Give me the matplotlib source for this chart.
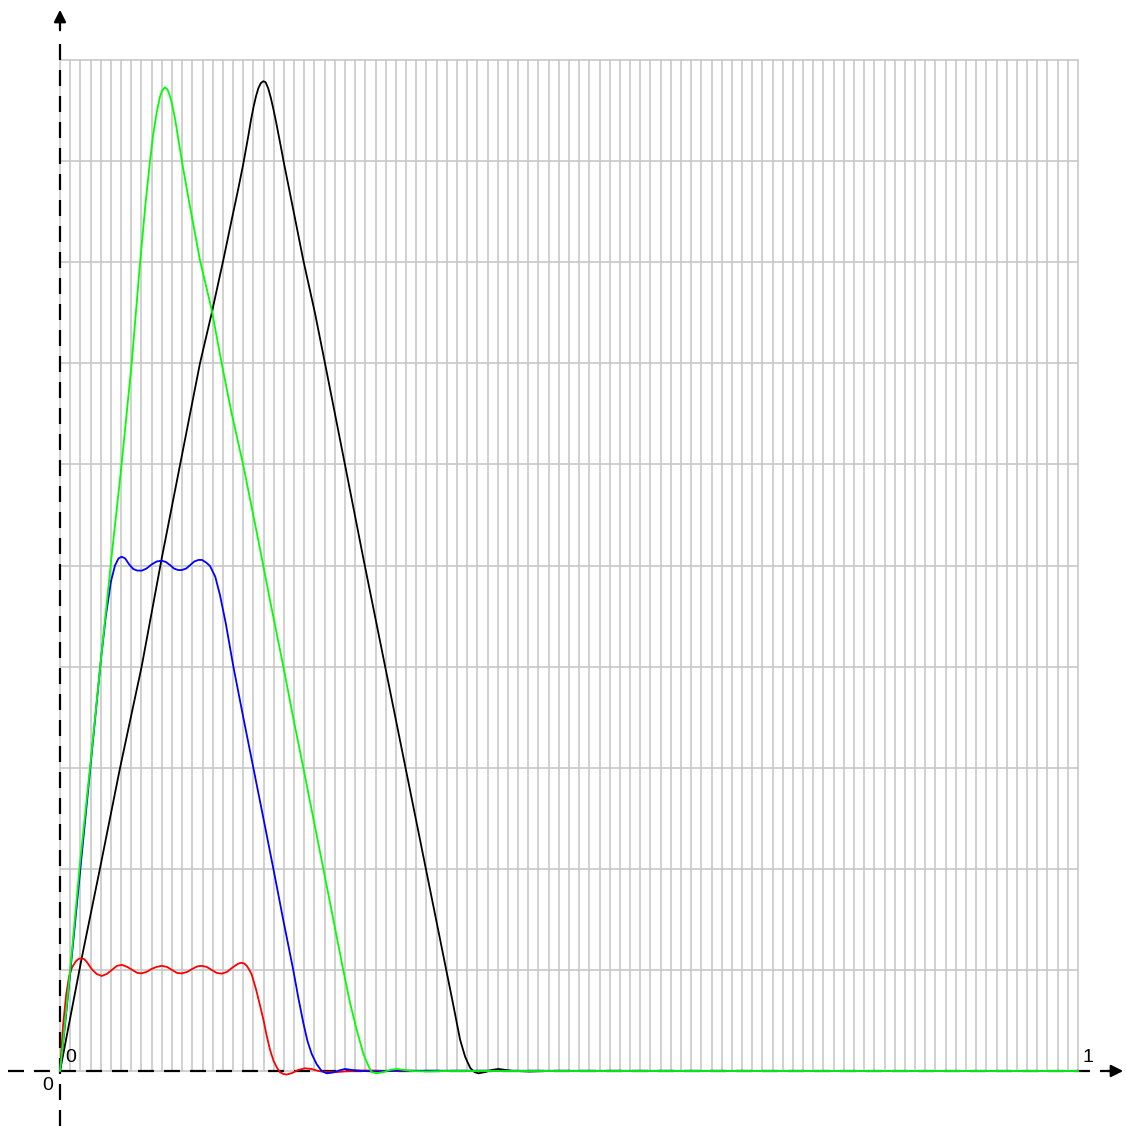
import numpy as np
import matplotlib
matplotlib.use("Agg")
import matplotlib.pyplot as plt

plt.rcParams['font.family'] = ['Liberation Sans', 'DejaVu Sans']

# rectangular pulse (red)
red_x = [0, 0.003, 0.006, 0.009, 0.012, 0.016, 0.0185, 0.0213, 0.024, 0.027,
         0.031, 0.036, 0.041, 0.046, 0.051, 0.056, 0.0606, 0.066, 0.071, 0.076,
         0.0802, 0.085, 0.090, 0.095, 0.0999, 0.105, 0.110, 0.115, 0.1195, 0.125,
         0.130, 0.135, 0.139, 0.144, 0.149, 0.154, 0.159, 0.164, 0.169, 0.174,
         0.1763, 0.1785, 0.181, 0.1835, 0.186, 0.1883, 0.1925, 0.1965, 0.2, 0.203,
         0.2063, 0.2096, 0.213, 0.2161, 0.2195, 0.2227, 0.228, 0.234, 0.2407, 0.247,
         0.254, 0.262, 0.270, 0.285, 0.30, 0.32, 1.0]
red_y = [0, 0.045, 0.075, 0.094, 0.103, 0.109, 0.111, 0.1115, 0.1105, 0.107,
         0.101, 0.096, 0.094, 0.096, 0.100, 0.104, 0.105, 0.103, 0.100, 0.097,
         0.0966, 0.098, 0.101, 0.103, 0.104, 0.103, 0.100, 0.097, 0.0965, 0.098,
         0.101, 0.1035, 0.104, 0.103, 0.100, 0.097, 0.0963, 0.098, 0.102, 0.1055,
         0.1066, 0.107, 0.1063, 0.104, 0.100, 0.0955, 0.081, 0.0648, 0.050, 0.035,
         0.021, 0.0105, 0.0035, -0.0012, -0.003, -0.0035, -0.002, 0.001, 0.0027, 0.002,
         0.0, -0.001, -0.0012, 0.0, 0.0006, 0.0, 0.0]

# trapezoid (blue)
blue_x = [0, 0.005, 0.010, 0.020, 0.030, 0.040, 0.045, 0.050, 0.054, 0.0575,
          0.0606, 0.064, 0.068, 0.072, 0.076, 0.0802, 0.085, 0.090, 0.095, 0.0999,
          0.104, 0.108, 0.112, 0.116, 0.1195, 0.124, 0.128, 0.132, 0.136, 0.1395,
          0.1435, 0.1473, 0.1525, 0.1572, 0.163, 0.1703, 0.180, 0.1899, 0.200, 0.2096,
          0.219, 0.2292, 0.234, 0.239, 0.243, 0.2472, 0.252, 0.257, 0.262, 0.268,
          0.274, 0.280, 0.287, 0.297, 0.31, 0.33, 1.0]
blue_y = [0, 0.046, 0.097, 0.200, 0.302, 0.405, 0.450, 0.484, 0.500, 0.507,
          0.5087, 0.507, 0.501, 0.4965, 0.4950, 0.4949, 0.497, 0.501, 0.504, 0.5047,
          0.5035, 0.5005, 0.497, 0.4955, 0.4955, 0.497, 0.5005, 0.504, 0.5055, 0.5055,
          0.503, 0.4996, 0.489, 0.4706, 0.442, 0.400, 0.350, 0.300, 0.249, 0.200,
          0.151, 0.0996, 0.073, 0.0477, 0.030, 0.017, 0.007, 0.0, -0.0023, -0.0015,
          0.0005, 0.002, 0.001, 0.0, -0.0005, 0.0003, 0.0]

# triangle, early peak (green)
green_x = [0, 0.005, 0.010, 0.0196, 0.030, 0.040, 0.0508, 0.0606, 0.0704, 0.0786,
           0.0840, 0.0884, 0.0915, 0.095, 0.0982, 0.1005, 0.1031, 0.1055, 0.1078, 0.1097,
           0.113, 0.1162, 0.1211, 0.1277, 0.1375, 0.149, 0.1588, 0.1686, 0.180, 0.1948,
           0.207, 0.2194, 0.229, 0.239, 0.2587, 0.2783, 0.285, 0.2914, 0.298, 0.303,
           0.306, 0.311, 0.318, 0.324, 0.3307, 0.338, 0.345, 0.36, 0.38, 1.0]
green_y = [0, 0.048, 0.100, 0.2054, 0.305, 0.405, 0.510, 0.601, 0.700, 0.799,
           0.858, 0.900, 0.926, 0.948, 0.9637, 0.970, 0.973, 0.971, 0.965, 0.958,
           0.942, 0.922, 0.892, 0.855, 0.802, 0.753, 0.700, 0.6505, 0.5994, 0.525,
           0.462, 0.400, 0.350, 0.300, 0.200, 0.0996, 0.067, 0.041, 0.017, 0.005,
           -0.001, -0.0023, -0.001, 0.001, 0.002, 0.001, 0.0, -0.0005, 0.0, 0.0]

# triangle, late peak (black)
black_x = [0, 0.0213, 0.0393, 0.0589, 0.0802, 0.0999, 0.1179, 0.1375, 0.149, 0.1604,
           0.1686, 0.175, 0.180, 0.1825, 0.185, 0.1875, 0.190, 0.1925, 0.1948, 0.1972,
           0.1997, 0.202, 0.2045, 0.207, 0.2095, 0.212, 0.2145, 0.217, 0.2194, 0.2292,
           0.239, 0.2505, 0.2603, 0.270, 0.280, 0.298, 0.3194, 0.3394, 0.3594, 0.3794,
           0.386, 0.393, 0.398, 0.403, 0.407, 0.411, 0.418, 0.424, 0.4306, 0.438,
           0.445, 0.46, 0.48, 1.0]
black_y = [0, 0.1115, 0.2005, 0.2994, 0.400, 0.507, 0.5994, 0.700, 0.7495, 0.802,
           0.8417, 0.872, 0.897, 0.911, 0.925, 0.940, 0.953, 0.964, 0.972, 0.977,
           0.979, 0.978, 0.972, 0.963, 0.952, 0.940, 0.927, 0.914, 0.901, 0.8516,
           0.802, 0.7495, 0.700, 0.6505, 0.5994, 0.507, 0.400, 0.300, 0.200, 0.100,
           0.067, 0.031, 0.014, 0.003, -0.001, -0.0023, -0.001, 0.001, 0.002, 0.001,
           0.0, -0.0005, 0.0, 0.0]

fig = plt.figure(figsize=(11.26, 11.26), dpi=100)
ax = fig.add_axes([0, 0, 1, 1])
ax.set_xlim(-60 / 1018, 1066 / 1018)
ax.set_ylim(-55 / 1011, 1071 / 1011)
ax.axis('off')

# grid: 100 columns, 10 rows
grid_c = '#c8c8c8'
for i in range(101):
    ax.plot([i / 100, i / 100], [0, 1], color=grid_c, lw=1.2, zorder=1)
for j in range(11):
    ax.plot([0, 1], [j / 10, j / 10], color=grid_c, lw=1.2, zorder=1)

# dashed axes with arrows
ax.plot([-52 / 1018, 1094 / 1018], [0, 0], color='black', lw=1.6,
        dashes=(7.2, 4.5), zorder=2)
ax.plot([0, 0], [-55 / 1011, 1030 / 1011], color='black', lw=1.6,
        dashes=(7.2, 4.5), zorder=2)
ax.annotate('', xy=(1066 / 1018, 0), xytext=(1045 / 1018, 0),
            arrowprops=dict(arrowstyle='-|>', color='black', lw=1.6,
                            mutation_scale=18), zorder=3)
ax.annotate('', xy=(0, 1064 / 1011), xytext=(0, 1038 / 1011),
            arrowprops=dict(arrowstyle='-|>', color='black', lw=1.6,
                            mutation_scale=18), zorder=3)

ax.text(11 / 1018, 14 / 1011, '0', fontsize=14, ha='center', va='center')
ax.text(-12.5 / 1018, -14 / 1011, '0', fontsize=14, ha='center', va='center')
ax.text(1028 / 1018, 14 / 1011, '1', fontsize=14, ha='center', va='center')

ax.plot(black_x, black_y, color='black', lw=1.3, zorder=4)
ax.plot(red_x, red_y, color='#ff0000', lw=1.3, zorder=4)
ax.plot(blue_x, blue_y, color='#0000ff', lw=1.3, zorder=4)
ax.plot(green_x, green_y, color='#00ff00', lw=1.3, zorder=4)

fig.savefig('out.png', dpi=100)
